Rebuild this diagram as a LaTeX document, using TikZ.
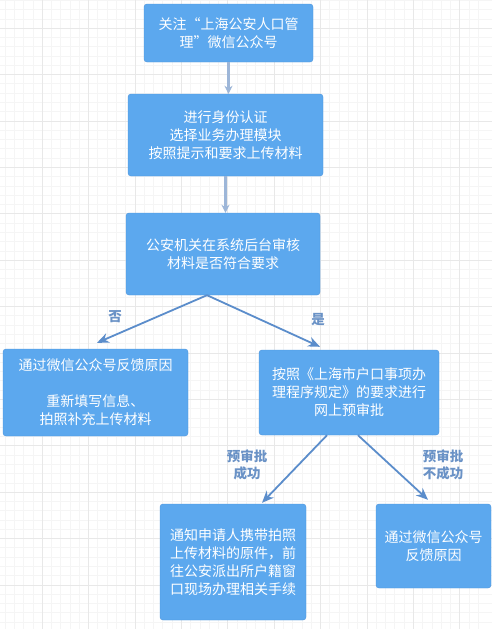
\documentclass[tikz,border=0pt]{standalone}
\usepackage{fontspec}
\setmainfont{Noto Sans CJK SC}
\usetikzlibrary{positioning, arrows.meta, calc}

\definecolor{boxblue}{HTML}{5CA8EE}
\definecolor{boxedge}{HTML}{4B93DC}
\definecolor{linkblue}{HTML}{5B8DCB}
\definecolor{arrowgray}{HTML}{9DB6D8}
\definecolor{labelblue}{HTML}{6A92C6}

\begin{document}
\begin{tikzpicture}[x=1pt, y=-1pt, >=Stealth,
    stepbox/.style={draw=boxedge, fill=boxblue, rounded corners=3pt, text=white,
        align=center, inner sep=0pt, font=\fontsize{14}{18}\selectfont},
    downarrow/.style={->, line width=2.2pt, arrowgray, -{Stealth[length=8pt, width=8pt]}},
    link/.style={line width=1.8pt, linkblue, -{Stealth[length=12pt, width=10pt]}},
    edgelabel/.style={text=labelblue, align=center, font=\fontsize{13.5}{17}\selectfont\bfseries}]
    % page and faint grid
    \useasboundingbox (0,0) rectangle (492,629);
    \fill[white] (0,0) rectangle (492,629);
    \foreach \i in {0,...,52}
        \draw[black!4, line width=0.4pt] ({-4.4+9.28*\i},0) -- ++(0,629);
    \foreach \i in {0,...,68}
        \draw[black!4, line width=0.4pt] (0,{-9.12+9.28*\i}) -- ++(492,0);
    \foreach \i in {0,...,10}
        \draw[black!9, line width=0.6pt] ({42+46.4*\i},0) -- ++(0,629);
    \foreach \i in {0,...,13}
        \draw[black!9, line width=0.6pt] (0,{28+46.4*\i}) -- ++(492,0);

    % steps
    \node[stepbox, minimum width=169pt, minimum height=58pt] (follow) at (228.5,33)
        {关注“上海公安人口管\\理”微信公众号};
    \node[stepbox, minimum width=195pt, minimum height=82pt] (verify) at (225.5,135)
        {进行身份认证\\选择业务办理模块\\按照提示和要求上传材料};
    \node[stepbox, minimum width=194pt, minimum height=82pt] (review) at (223,254)
        {公安机关在系统后台审核\\材料是否符合要求};
    \node[stepbox, minimum width=185pt, minimum height=87pt] (reject) at (95.5,392.5)
        {通过微信公众号反馈原因\\[18pt]重新填写信息、\\拍照补充上传材料};
    \node[stepbox, minimum width=180pt, minimum height=85pt] (preapp) at (349,392.5)
        {按照《上海市户口事项办\\理程序规定》的要求进行\\网上预审批};
    \node[stepbox, minimum width=146pt, minimum height=116pt] (onsite) at (233,562)
        {通知申请人携带拍照\\上传材料的原件，前\\往公安派出所户籍窗\\口现场办理相关手续};
    \node[stepbox, minimum width=115pt, minimum height=84pt] (notify) at (433.5,546)
        {通过微信公众号\\反馈原因};

    % vertical arrows
    \draw[downarrow] (follow.south) -- (follow.south |- verify.north);
    \draw[downarrow] (verify.south) -- (verify.south |- review.north);

    % branches
    \draw[link] ([xshift=-16pt]review.south) -- ([xshift=1.5pt, yshift=6pt]reject.north);
    \draw[link] ([xshift=-16pt]review.south) -- ([xshift=-29pt, yshift=3pt]preapp.north);
    \draw[link] ([xshift=-22pt]preapp.south) -- ([xshift=29pt, yshift=1pt]onsite.north);
    \draw[link] ([xshift=9pt]preapp.south) -- ([xshift=-5.5pt, yshift=4pt]notify.north);

    % branch labels
    \node[edgelabel] (no) at (115,317) {否};
    \node[edgelabel] (yes) at (318,320) {是};
    \node[edgelabel] (passed) at (247,465) {预审批\\成功};
    \node[edgelabel] (failed) at (443,465) {预审批\\不成功};
\end{tikzpicture}
\end{document}
